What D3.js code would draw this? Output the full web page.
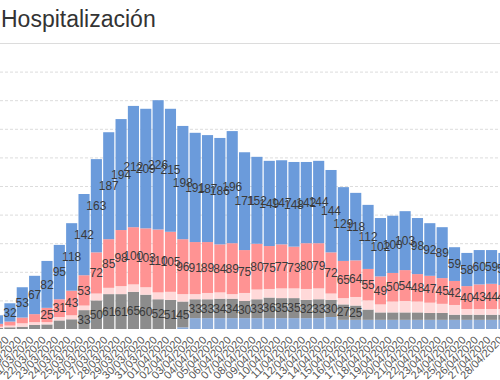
<!DOCTYPE html>
<html>
<head>
<meta charset="utf-8">
<script src="https://cdn.jsdelivr.net/npm/d3@7"></script>
<style>
  body { margin: 0; background: #fff; }
  svg { display: block; font-family: "Liberation Sans", Arial, sans-serif; }
</style>
</head>
<body>
<script>
// fechas (eje x)
var fechas = ['18/03/2020','19/03/2020','20/03/2020','21/03/2020','22/03/2020','23/03/2020','24/03/2020',
  '25/03/2020','26/03/2020','27/03/2020','28/03/2020','29/03/2020','30/03/2020','31/03/2020',
  '01/04/2020','02/04/2020','03/04/2020','04/04/2020','05/04/2020','06/04/2020','07/04/2020',
  '08/04/2020','09/04/2020','10/04/2020','11/04/2020','12/04/2020','13/04/2020','14/04/2020',
  '15/04/2020','16/04/2020','17/04/2020','18/04/2020','19/04/2020','20/04/2020','21/04/2020',
  '22/04/2020','23/04/2020','24/04/2020','25/04/2020','26/04/2020','27/04/2020','28/04/2020'];

// series, de abajo a arriba
var celeste = [0,0,0,0,0,0,0,0,0,0,0,0,0,0,0,3,19,19,19,19,19,19,19,19,19,19,19,21,16,16,16,16,16,16,16,16,16,16,16,16,16,16];
var gris    = [2,3,4,7,8,15,17,33,50,61,61,65,60,52,51,45,33,33,34,34,30,33,36,35,35,32,33,30,27,25,18,13,13,13,13,12,12,9,9,9,9,9];
var rosa    = [2,3,6,5,4,6,7,8,12,11,14,13,13,12,14,13,9,11,11,8,14,17,15,17,17,19,19,11,11,15,16,14,19,20,19,18,16,17,10,10,10,10];
var rojo    = [5,7,10,14,25,31,43,53,72,85,98,100,103,110,105,96,91,89,84,89,75,80,75,77,73,80,79,72,65,64,55,49,50,54,48,47,45,42,40,43,44,42];
var azul    = [15,32,53,67,82,95,118,142,163,187,194,212,209,226,215,198,191,187,186,196,171,152,149,147,148,142,144,144,129,118,112,102,100,103,98,92,89,59,58,60,59,56];

var series = [
  {key: 'celeste', values: celeste, color: '#8aabd9', label: false},
  {key: 'gris',    values: gris,    color: '#8c8c8c', label: true},
  {key: 'rosa',    values: rosa,    color: '#ffd9d9', label: false},
  {key: 'rojo',    values: rojo,    color: '#ff9393', label: true},
  {key: 'azul',    values: azul,    color: '#6b9bdb', label: true}
];

var width = 500, height = 380;

// tabla para d3.stack
var tabla = fechas.map(function (f, i) {
  var row = {fecha: f};
  series.forEach(function (s) { row[s.key] = s.values[i]; });
  return row;
});

var stack = d3.stack().keys(series.map(function (s) { return s.key; }));
var capas = stack(tabla);

var x = d3.scaleBand()
  .domain(fechas)
  .range([-8.6, 510.1])
  .paddingInner(0.1)
  .paddingOuter(0.05);

var y = d3.scaleLinear()
  .domain([0, 500])
  .range([329, 43]);

var svg = d3.select('body').append('svg')
  .attr('width', width)
  .attr('height', height);

// titulo
svg.append('text')
  .attr('x', 1)
  .attr('y', 27)
  .style('font-size', '23px')
  .style('fill', '#333')
  .text('Hospitalización');

// rejilla
svg.append('g').selectAll('line')
  .data(y.ticks(10).filter(function (t) { return t > 0; }))
  .enter().append('line')
  .attr('x1', 0).attr('x2', width)
  .attr('y1', function (d) { return y(d) + 0.5; })
  .attr('y2', function (d) { return y(d) + 0.5; })
  .attr('stroke', '#dcdcdc')
  .attr('stroke-dasharray', function (d) { return d === 500 ? null : '3,2'; });

// barras apiladas
var grupos = svg.append('g').selectAll('g')
  .data(capas)
  .enter().append('g')
  .attr('fill', function (d, i) { return series[i].color; });

grupos.selectAll('rect')
  .data(function (d) { return d; })
  .enter().append('rect')
  .attr('x', function (d) { return x(d.data.fecha); })
  .attr('width', x.bandwidth())
  .attr('y', function (d) { return y(d[1]); })
  .attr('height', function (d) { return y(d[0]) - y(d[1]); });

// etiquetas de valor
capas.forEach(function (capa, i) {
  if (!series[i].label) return;
  svg.append('g').selectAll('text')
    .data(capa.filter(function (d) { return d[1] - d[0] >= 24; }))
    .enter().append('text')
    .attr('x', function (d) { return x(d.data.fecha) + x.bandwidth() / 2; })
    .attr('y', function (d) { return y((d[0] + d[1]) / 2); })
    .attr('dy', '0.35em')
    .attr('text-anchor', 'middle')
    .style('font-family', '"Liberation Sans Narrow", "Arial Narrow", "Liberation Sans", sans-serif')
    .style('font-size', '12px')
    .style('fill', '#3a3a3a')
    .text(function (d) { return d[1] - d[0]; });
});

// eje x (etiquetas giradas)
svg.append('g').selectAll('text')
  .data(fechas)
  .enter().append('text')
  .attr('transform', function (d) {
    return 'translate(' + (x(d) + x.bandwidth() / 2 - 3) + ',338) rotate(-45)';
  })
  .attr('text-anchor', 'end')
  .attr('dy', '0.35em')
  .style('font-size', '11px')
  .style('fill', '#555')
  .text(function (d) { return d; });
</script>
</body>
</html>
